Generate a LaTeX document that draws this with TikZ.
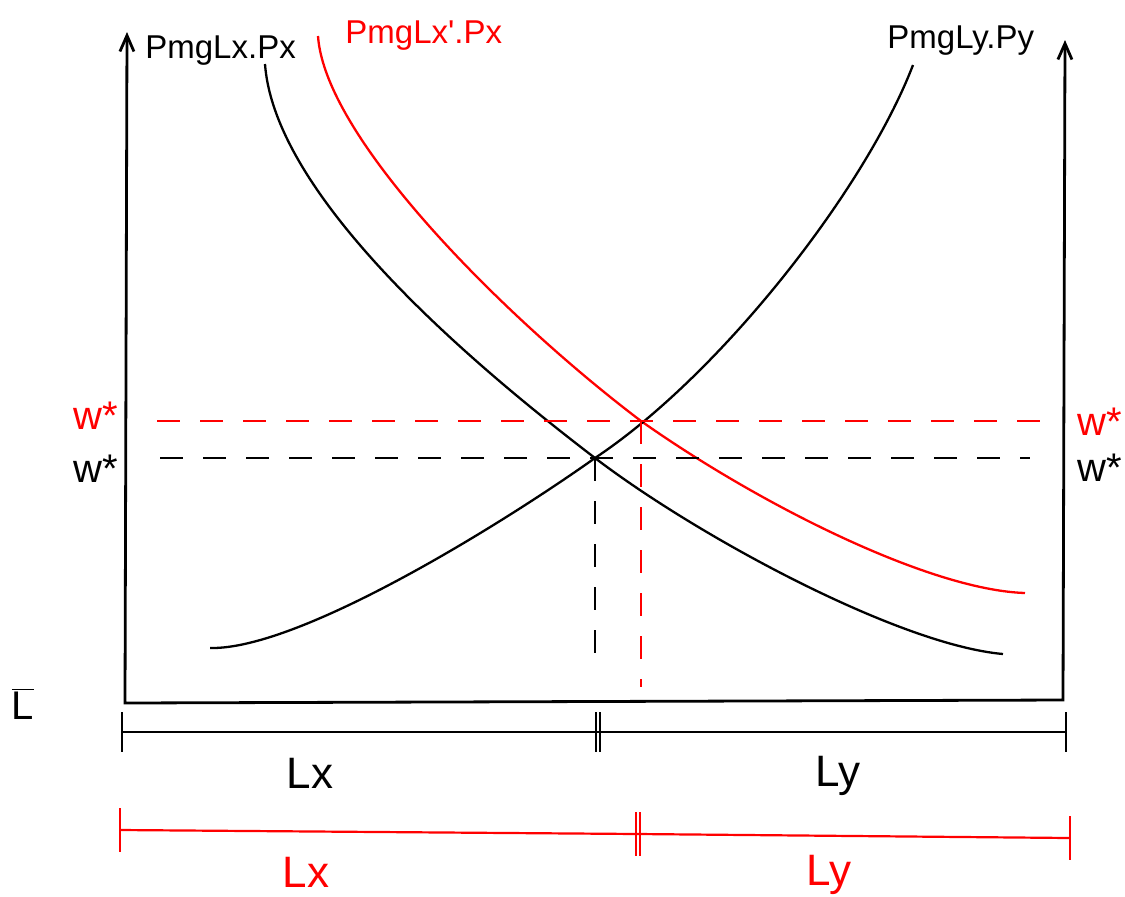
\documentclass[tikz,border=0pt]{standalone}
\usepackage{fontspec}
\setmainfont{Liberation Sans}
\usetikzlibrary{arrows.meta}
\begin{document}
\begin{tikzpicture}[
  x=0.5pt, y=-0.5pt, font=\fontsize{16.5}{19}\selectfont,
  every node/.style={inner sep=0pt},
  axis/.style={line width=1.4pt, {Straight Barb[length=8pt,width=7pt]}-{Straight Barb[length=8pt,width=7pt]}},
  curve/.style={line width=1.15pt, draw=#1},
  guide/.style={line width=1.1pt, dash pattern=on 11.5pt off 10pt, draw=#1},
  bar/.style={line width=1.1pt, draw=#1},
  big/.style={font=\fontsize{20}{24}\selectfont, text=#1},
  low/.style={font=\fontsize{22}{26}\selectfont, text=#1}
]
\useasboundingbox (0,0) rectangle (1125,896);

%% Axes
\coordinate (O) at (125,703);
\coordinate (E) at (1063,700);
\coordinate (ytop) at (127,32);
\coordinate (ztop) at (1065,40);
\draw[axis] (ytop) -- (O) -- (E) -- (ztop);

%% Equilibrium points
\coordinate (eq) at (595,458);
\coordinate (eqr) at (641,421);

%% Curve ends
\coordinate (dxs) at (265,64);
\coordinate (dxe) at (1003,654);
\coordinate (drs) at (318,36);
\coordinate (dre) at (1025,593);
\coordinate (sys) at (210,648);
\coordinate (sye) at (913,65);

%% Curves
\draw[curve=black] (dxs) .. controls (275,200) and (480,370) .. (eq)
  .. controls (700,538) and (900,645) .. (dxe);
\draw[curve=red] (drs) .. controls (325,140) and (510,322) .. (eqr)
  .. controls (760,505) and (930,590) .. (dre);
\draw[curve=black] (sys) .. controls (300,650) and (505,522) .. (eq)
  .. controls (720,375) and (865,190) .. (sye);

%% Curve labels
\node[anchor=base west] (px) at (145,58) {PmgLx.Px};
\node[anchor=base west, text=red] (pxr) at (345,43) {PmgLx\textquotesingle.Px};
\node[anchor=base west] (py) at (887,48) {PmgLy.Py};

%% Wage lines
\coordinate (wrl) at (157,421);
\coordinate (wrr) at (1045,421);
\coordinate (wbl) at (160,458);
\coordinate (wbr) at (1030,458);
\draw[guide=red] (wrl) -- (wrr);
\draw[guide=black] (wbl) -- (wbr);
\draw[guide=black] (eq) -- (595,670);
\draw[guide=red] (eqr) -- (641,687);

\node[big=red, anchor=base east] (wrA) at (118,429) {w*};
\node[big=black, anchor=base east] (wbA) at (118,482) {w*};
\node[big=red, anchor=base west] (wrB) at (1077,435) {w*};
\node[big=black, anchor=base west] (wbB) at (1077,481) {w*};

\node[big=black] (lbar) at (23,704) {$\overline{\mbox{L}}$};

%% Black split
\coordinate (bL) at (122,732);
\coordinate (bM) at (598,732);
\coordinate (bR) at (1066,732);
\draw[bar=black] (bL) -- (bR);
\draw[bar=black] ([yshift=10pt]bL) -- ([yshift=-10pt]bL);
\draw[bar=black] ([xshift=-1pt,yshift=10pt]bM) -- ([xshift=-1pt,yshift=-10pt]bM);
\draw[bar=black] ([xshift=1pt,yshift=10pt]bM) -- ([xshift=1pt,yshift=-10pt]bM);
\draw[bar=black] ([yshift=10pt]bR) -- ([yshift=-10pt]bR);
\node[low=black] (lxb) at (310,773) {Lx};
\node[low=black] (lyb) at (838,776) {Ly};

%% Red split
\coordinate (rL) at (120,830);
\coordinate (rM) at (638,834);
\coordinate (rR) at (1070,838);
\draw[bar=red] (rL) -- (rM) -- (rR);
\draw[bar=red] ([yshift=11pt]rL) -- ([yshift=-11pt]rL);
\draw[bar=red] ([xshift=-1pt,yshift=11pt]rM) -- ([xshift=-1pt,yshift=-11pt]rM);
\draw[bar=red] ([xshift=1pt,yshift=11pt]rM) -- ([xshift=1pt,yshift=-11pt]rM);
\draw[bar=red] ([yshift=11pt]rR) -- ([yshift=-11pt]rR);
\node[low=red] (lxr) at (306,872) {Lx};
\node[low=red] (lyr) at (829,875) {Ly};
\end{tikzpicture}
\end{document}
